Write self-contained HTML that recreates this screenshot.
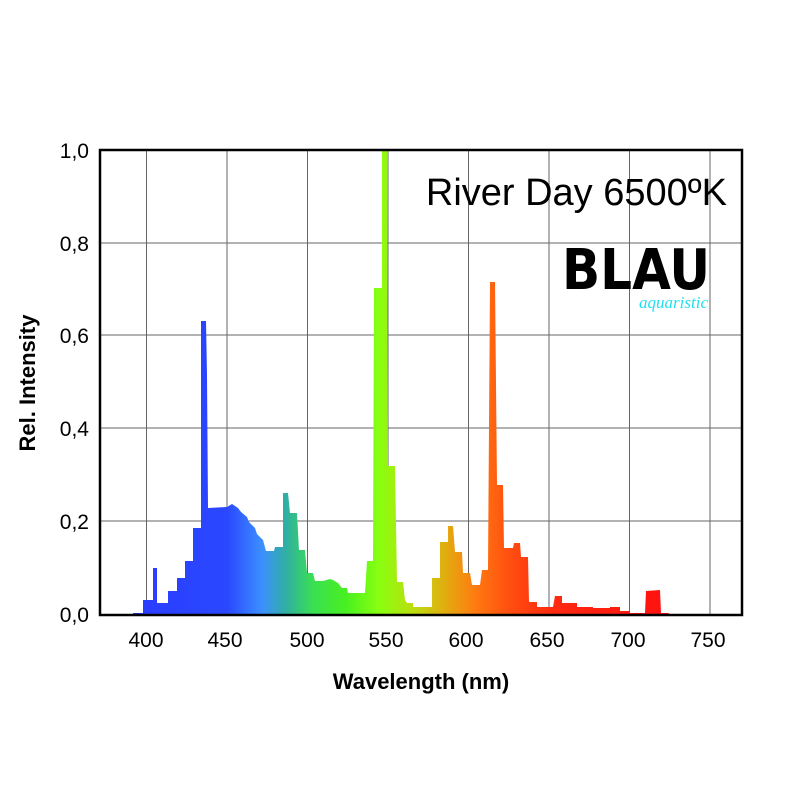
<!DOCTYPE html>
<html><head><meta charset="utf-8"><style>
html,body{margin:0;padding:0;background:#fff;}
</style></head><body>
<svg width="800" height="800" viewBox="0 0 800 800" xmlns="http://www.w3.org/2000/svg" font-family="Liberation Sans, Arial, sans-serif">
<defs>
<linearGradient id="sp" gradientUnits="userSpaceOnUse" x1="130" y1="0" x2="670" y2="0">
<stop offset="0" stop-color="#2a3cff"/>
<stop offset="0.18" stop-color="#2a48ff"/>
<stop offset="0.245" stop-color="#3c90ff"/>
<stop offset="0.29" stop-color="#30b0a0"/>
<stop offset="0.34" stop-color="#3ae050"/>
<stop offset="0.40" stop-color="#48f020"/>
<stop offset="0.46" stop-color="#88ff10"/>
<stop offset="0.52" stop-color="#b8e010"/>
<stop offset="0.58" stop-color="#e0b010"/>
<stop offset="0.64" stop-color="#ff7a10"/>
<stop offset="0.70" stop-color="#ff5010"/>
<stop offset="0.78" stop-color="#ff2a10"/>
<stop offset="1" stop-color="#ff1010"/>
</linearGradient>
</defs>
<!-- grid -->
<g stroke="#666" stroke-width="1">
<line x1="146.5" y1="150" x2="146.5" y2="615"/>
<line x1="227" y1="150" x2="227" y2="615"/>
<line x1="307.5" y1="150" x2="307.5" y2="615"/>
<line x1="388" y1="150" x2="388" y2="615"/>
<line x1="468.5" y1="150" x2="468.5" y2="615"/>
<line x1="549" y1="150" x2="549" y2="615"/>
<line x1="629.5" y1="150" x2="629.5" y2="615"/>
<line x1="710" y1="150" x2="710" y2="615"/>
<line x1="100" y1="243" x2="742" y2="243"/>
<line x1="100" y1="335" x2="742" y2="335"/>
<line x1="100" y1="428" x2="742" y2="428"/>
<line x1="100" y1="521" x2="742" y2="521"/>
</g>
<!-- spectrum -->
<polygon fill="url(#sp)" points="
133,614 133,613 143,613 143,600 153,600 153,568 157,568 157,603 168,603 168,591 177,591 177,578 185,578 185,561 193,561 193,528 201,528 201,321 206,321 207,375 208,508 227,507 232,504 238,508 241,512 247,517 249,522 255,528 257,534 263,540 266,551 274,551 275,547 283,547 283,493 288,493 290,513 297,513 299,550 305,550 307,573 313,573 315,581 323,581 330,579 333,580 338,583 342,588 347,588 348,593 365,593 367,561 373,561 374,288 382,288 382,150 387,150 388,466 395,466 397,582 403,582 405,600 407,603 413,603 413,607 432,607 432,578 440,578 440,542 448,542 448,526 453,526 455,552 462,552 463,573 470,573 472,585 480,585 482,570 488,570 490,282 495,282 497,485 503,485 504,548 513,548 514,543 520,543 521,557 528,557 529,602 537,602 537,607 553,607 555,596 562,596 562,603 577,603 577,607 593,607 593,608 610,608 610,607 620,607 620,611 630,611 630,613 645,613 646,591 660,590 661,613 668,613 670,614"/>
<!-- frame -->
<rect x="100" y="150" width="642" height="465" fill="none" stroke="#000" stroke-width="2.5"/>
<!-- y tick labels -->
<g font-size="21" text-anchor="end" fill="#000">
<text x="89" y="158">1,0</text>
<text x="89" y="251">0,8</text>
<text x="89" y="343">0,6</text>
<text x="89" y="436">0,4</text>
<text x="89" y="529">0,2</text>
<text x="89" y="622">0,0</text>
</g>
<g font-size="21" text-anchor="middle" fill="#000">
<text x="146" y="647">400</text>
<text x="225" y="647">450</text>
<text x="307" y="647">500</text>
<text x="386" y="647">550</text>
<text x="466" y="647">600</text>
<text x="547" y="647">650</text>
<text x="628" y="647">700</text>
<text x="708" y="647">750</text>
</g>
<text x="421" y="689" font-size="22" font-weight="bold" text-anchor="middle">Wavelength (nm)</text>
<text transform="translate(35,383) rotate(-90)" font-size="22" font-weight="bold" text-anchor="middle">Rel. Intensity</text>
<text x="727" y="205" font-size="38" text-anchor="end">River Day 6500ºK</text>
<!-- logo -->
<text x="562" y="289" font-size="56" font-weight="bold" textLength="148" lengthAdjust="spacingAndGlyphs" font-family="DejaVu Sans, sans-serif">BLAU</text>
<text x="708" y="308" font-size="17" font-style="italic" fill="#22e0f0" text-anchor="end" font-family="Liberation Serif, serif">aquaristic</text>
</svg>
</body></html>
